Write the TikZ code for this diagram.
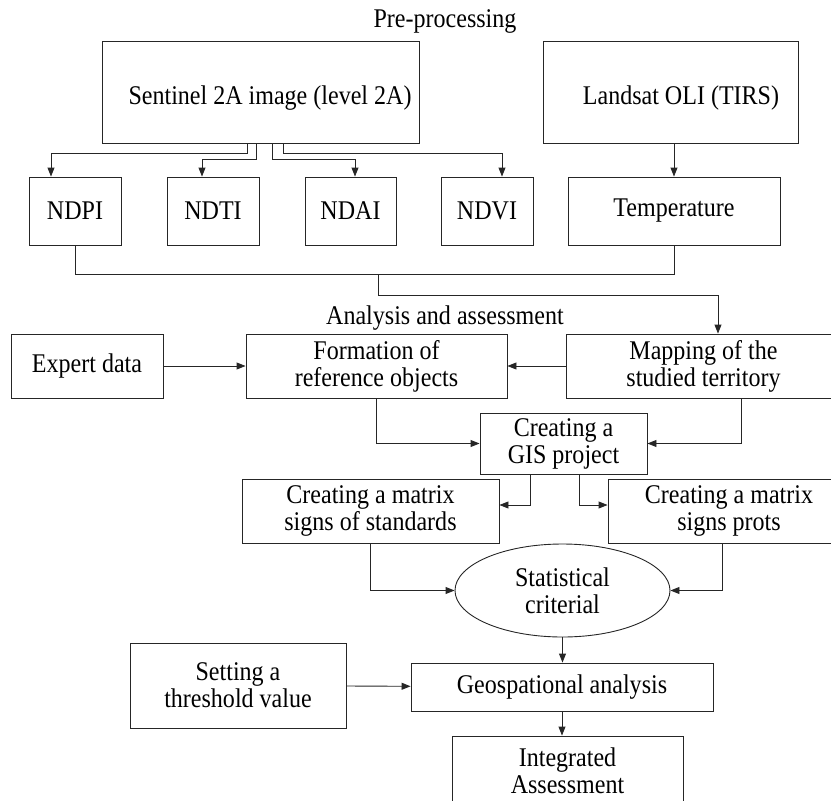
\documentclass[tikz,border=0pt]{standalone}
\usepackage{fontspec}
\setmainfont[FakeStretch=0.89]{Liberation Serif}
\usetikzlibrary{shapes,arrows.meta,calc,positioning}

\begin{document}
\begin{tikzpicture}[x=1pt,y=-1pt,
	txt/.style={font=\fontsize{27}{27}\selectfont},
	box/.style={txt,draw=black!85,line width=0.9pt,inner sep=0pt,align=center},
	oval/.style={box,ellipse},
	line/.style={draw=black!85,line width=0.9pt},
	arr/.style={line,-{Triangle[length=9pt,width=7pt]}}]
	\useasboundingbox (0,0) rectangle (831,801);
	
	\node[txt] (0) at (445,21) {Pre-processing};
	\node[box,minimum width=317pt,minimum height=102pt,label={[txt,xshift=9.5pt,yshift=-6pt]center:Sentinel 2A image (level 2A)}] (1) at (260.5,92) {};
	\node[box,minimum width=255pt,minimum height=102pt,label={[txt,xshift=10.5pt,yshift=-6pt]center:Landsat OLI (TIRS)}] (2) at (670.5,92) {};
	\node[box,minimum width=92pt,minimum height=68pt] (3) at (75,211) {NDPI};
	\node[box,minimum width=92pt,minimum height=68pt] (4) at (213,211) {NDTI};
	\node[box,minimum width=91pt,minimum height=68pt] (5) at (350.5,211) {NDAI};
	\node[box,minimum width=92pt,minimum height=68pt] (6) at (487,211) {NDVI};
	\node[box,minimum width=212pt,minimum height=68pt] (7) at (674,211) {Temperature};
	
	\node[txt] (20) at (445,318) {Analysis and assessment};
	\node[box,minimum width=152pt,minimum height=64pt] (8) at (87,366) {Expert data};
	\node[box,minimum width=261pt,minimum height=64pt] (9) at (376.5,366) {Formation of\\reference objects};
	\node[box,minimum width=275pt,minimum height=64pt] (10) at (703.5,366) {Mapping of the\\studied territory};
	\node[box,minimum width=167pt,minimum height=61pt] (11) at (563.5,443.5) {Creating a\\GIS project};
	\node[box,minimum width=257pt,minimum height=64pt] (12) at (370.5,511) {Creating a matrix\\signs of standards};
	\node[box,minimum width=242pt,minimum height=64pt] (13) at (729,511) {Creating a matrix\\signs prots};
	\node[oval,minimum width=215pt,minimum height=93pt] (14) at (562.5,590.5) {Statistical\\criterial};
	\node[box,minimum width=302pt,minimum height=48pt] (15) at (562,687) {Geospational analysis};
	\node[box,minimum width=216pt,minimum height=85pt] (16) at (238,685.5) {Setting a\\threshold value};
	\node[box,minimum width=231pt,minimum height=70pt] (17) at (567.5,771) {Integrated\\Assessment};
	
	\coordinate (s1) at (247,143);
	\coordinate (s2) at (256,143);
	\coordinate (s3) at (272,143);
	\coordinate (s4) at (283,143);
	\coordinate (j) at (378,274);
	
	\draw[arr] (s1) -- ++(0,10) -| ([xshift=-24pt]3.north);
	\draw[arr] (s2) -- ++(0,16) -| ([xshift=-11pt]4.north);
	\draw[arr] (s3) -- ++(0,16) -| ([xshift=4.5pt]5.north);
	\draw[arr] (s4) -- ++(0,10) -| ([xshift=15pt]6.north);
	\draw[arr] (7.north |- 2.south) -- (7.north);
	
	\draw[line] (3.south) -- ++(0,29) -| (7.south);
	\draw[arr] (j) -- ++(0,21) -| ([xshift=14.5pt]10.north);
	
	\draw[arr] (8) -- (9);
	\draw[arr] (10) -- (9);
	\draw[arr] (9.south) |- (11.west);
	\draw[arr] ([xshift=37.5pt]10.south) |- (11.east);
	\draw[arr] ([xshift=-33.5pt]11.south) |- ([yshift=6pt]12.east);
	\draw[arr] ([xshift=15.5pt]11.south) |- ([yshift=6pt]13.west);
	\draw[arr] (12.south) |- (14.west);
	\draw[arr] ([xshift=-7pt]13.south) |- (14.east);
	\draw[arr] (14.south) -- (14.south |- 15.north);
	\draw[arr] (16) -- (15);
	\draw[arr] (15.south) -- (15.south |- 17.north);
\end{tikzpicture}
\end{document}
